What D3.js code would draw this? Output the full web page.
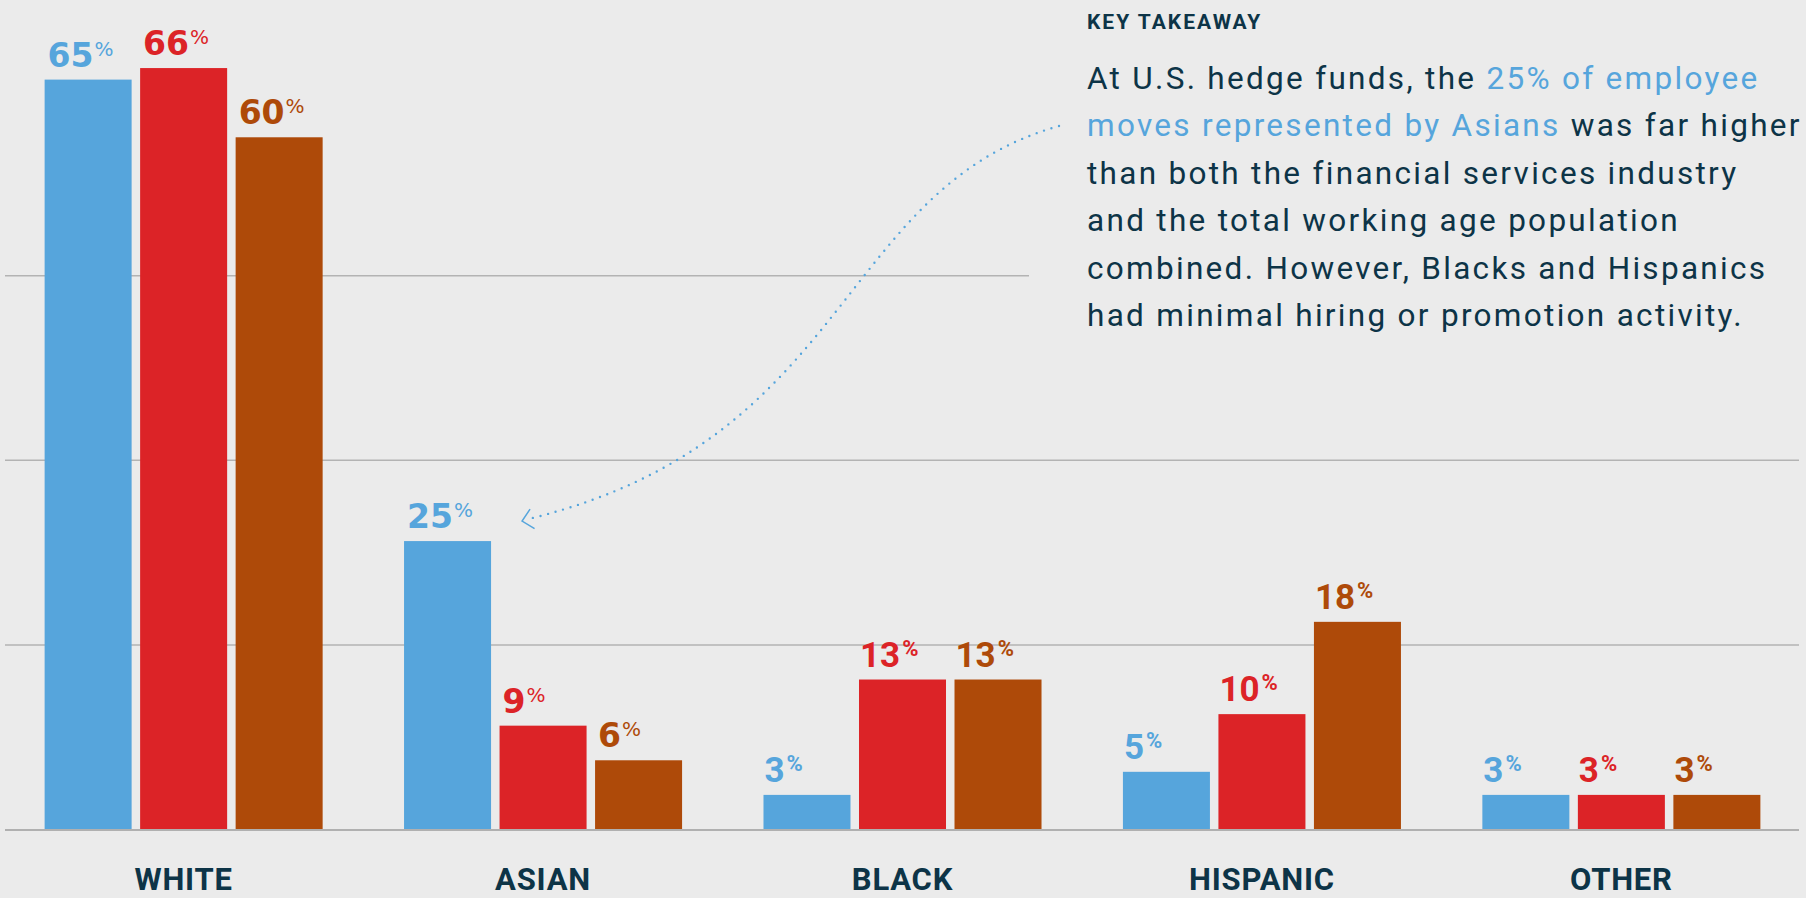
<!DOCTYPE html>
<html>
<head>
<meta charset="utf-8">
<script src="https://cdn.jsdelivr.net/npm/d3@7"></script>
<style>
  html, body { margin: 0; padding: 0; background: #ebebeb; }
  svg { display: block; font-family: Roboto, "Liberation Sans", sans-serif; }
</style>
</head>
<body>
<div id="chart"></div>
<script>
const width = 1806, height = 898;

// data
const categories = ["WHITE", "ASIAN", "BLACK", "HISPANIC", "OTHER"];
const seriesNames = ["Hedge funds", "Financial services", "Working age population"];
const hedgeFunds = [65, 25, 3, 5, 3];
const financialServices = [66, 9, 13, 10, 3];
const workingAge = [60, 6, 13, 18, 3];
const gridValues = [16, 32, 48];

const colors = ["#56a5dc", "#dc2327", "#ae4a09"];
const navy = "#0d3447";

const takeawayTitle = "KEY TAKEAWAY";
// each line: [text, highlighted?]
const takeawayLines = [
  [["At U.S. hedge funds, the ", false], ["25% of employee", true]],
  [["moves represented by Asians", true], [" was far higher", false]],
  [["than both the financial services industry", false]],
  [["and the total working age population", false]],
  [["combined. However, Blacks and Hispanics", false]],
  [["had minimal hiring or promotion activity.", false]]
];

const seriesValues = [hedgeFunds, financialServices, workingAge];
const rows = categories.map((c, i) => ({
  category: c,
  ci: i,
  values: seriesNames.map((s, j) => ({ series: s, idx: j, ci: i, value: seriesValues[j][i] }))
}));

const margin = {top: 0, right: 5, bottom: 68.5, left: 4};

let x = d3.scaleBand()
    .domain(categories)
    .range([margin.left, width - margin.right])
    .paddingInner(0.2265)
    .paddingOuter(0.113);

let xs = d3.scaleBand()
    .domain(seriesNames)
    .range([0, x.bandwidth()])
    .paddingInner(0.089);

let y = d3.scaleLinear()
    .domain([0, 71.9])
    .range([height - margin.bottom, margin.top]);

const textLeft = 1087;

document.addEventListener("DOMContentLoaded", function() {
  let svg = d3.select("#chart").append("svg")
    .attr("width", width).attr("height", height);

  svg.append("rect").attr("width", width).attr("height", height).attr("fill", "#ebebeb");

  // gridlines (top one stops short of the takeaway text)
  svg.append("g").selectAll("line")
    .data(gridValues)
    .join("line")
      .attr("x1", 5)
      .attr("x2", d => y(d) < 340 ? textLeft - 58 : 1799)
      .attr("y1", d => y(d))
      .attr("y2", d => y(d))
      .attr("stroke", "#b3b3b3")
      .attr("stroke-width", 1.5);

  // bars
  let group = svg.selectAll("g.cat")
    .data(rows)
    .join("g")
      .attr("class", "cat")
      .attr("transform", d => `translate(${x(d.category)},0)`);

  group.selectAll("rect")
    .data(d => d.values)
    .join("rect")
      .attr("x", d => xs(d.series))
      .attr("y", d => y(d.value))
      .attr("width", xs.bandwidth())
      .attr("height", d => y(0) - y(d.value))
      .attr("fill", d => colors[d.idx]);

  // value labels (first two groups are set in a wider face in the original)
  let lab = group.selectAll("text.val")
    .data(d => d.values)
    .join("text")
      .attr("class", "val")
      .attr("x", d => xs(d.series) + (d.ci < 2 ? 3 : 1))
      .attr("y", d => y(d.value) - 13)
      .attr("fill", d => colors[d.idx])
      .attr("font-weight", 700)
      .attr("font-size", d => d.ci < 2 ? 33 : 35)
      .style("font-family", d => d.ci < 2 ? "'DejaVu Sans', sans-serif" : null);
  lab.append("tspan").text(d => d.value);
  lab.append("tspan")
    .attr("font-size", d => d.ci < 2 ? 20 : 22)
    .attr("font-weight", d => d.ci < 2 ? 400 : 700)
    .attr("dx", d => d.ci < 2 ? 1 : 2)
    .attr("dy", -11)
    .text("%");

  // baseline
  svg.append("line")
    .attr("x1", 5).attr("x2", 1799)
    .attr("y1", y(0) + 0.5).attr("y2", y(0) + 0.5)
    .attr("stroke", "#b0b0b0")
    .attr("stroke-width", 2);

  // category axis labels
  svg.append("g").selectAll("text")
    .data(categories)
    .join("text")
      .attr("x", d => x(d) + x.bandwidth() / 2)
      .attr("y", 890)
      .attr("text-anchor", "middle")
      .attr("fill", navy)
      .attr("font-weight", 700)
      .attr("font-size", 31)
      .attr("letter-spacing", 0.8)
      .text(d => d);

  // takeaway text
  svg.append("text")
    .attr("x", textLeft).attr("y", 29)
    .attr("fill", navy)
    .attr("font-weight", 700)
    .attr("font-size", 21)
    .attr("letter-spacing", 2)
    .text(takeawayTitle);

  let body = svg.append("g");
  takeawayLines.forEach((line, i) => {
    let t = body.append("text")
      .attr("x", textLeft)
      .attr("y", 88.5 + i * 47.5)
      .attr("font-size", 31.5)
      .attr("letter-spacing", 2.3)
      .attr("fill", navy);
    line.forEach(([s, hl]) => {
      t.append("tspan").attr("fill", hl ? colors[0] : navy).text(s);
    });
  });

  // dotted arrow from text to Asian hedge fund label
  let tipX = x("ASIAN") + xs(seriesNames[0]) + xs.bandwidth() + 31;
  let tipY = y(hedgeFunds[1]) - 20;
  let sx = textLeft - 28, sy = 126;
  let ex = tipX + 10, ey = tipY - 3;
  svg.append("path")
    .attr("d", `M${sx},${sy} C${sx - 221},${sy + 62} ${ex + 320},${ey - 79} ${ex},${ey}`)
    .attr("fill", "none")
    .attr("stroke", colors[0])
    .attr("stroke-width", 2.4)
    .attr("stroke-linecap", "round")
    .attr("stroke-dasharray", "0,7.8");

  svg.append("path")
    .attr("d", `M${tipX + 8},${tipY - 12} L${tipX},${tipY} L${tipX + 12.5},${tipY + 7.5}`)
    .attr("fill", "none")
    .attr("stroke", colors[0])
    .attr("stroke-width", 1.5);
});
</script>
</body>
</html>
